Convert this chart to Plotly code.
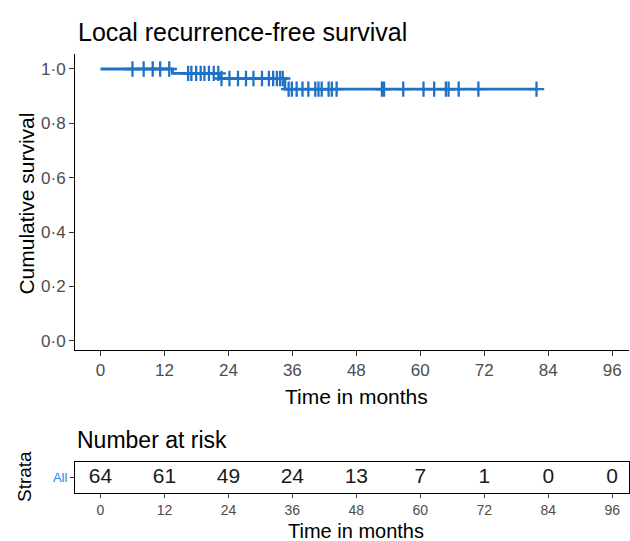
import plotly.graph_objects as go

W, H = 630, 541
OFF = 0  # body margin removed via post_script

# ---- data ----
step_times = [0, 13.5, 22.3, 34.6]
surv_levels = [1.0, 0.984, 0.965, 0.926]
end_time = 81.8
censor_times = [6.0, 8.1, 9.8, 11.2, 12.9,
                16.45, 17.05, 17.95, 18.8, 19.5, 20.35, 21.25, 22.1,
                22.7, 24.2, 25.8, 27.3, 28.7, 30.3, 31.6, 32.4, 33.1, 33.7, 34.2,
                35.3, 35.9, 36.8, 37.9, 39.0, 40.3, 40.9, 41.5, 42.8, 43.4, 44.3,
                52.8, 53.2, 56.8, 60.6, 62.6, 64.8, 65.3, 67.2, 70.9, 81.8]
risk_times = [0, 12, 24, 36, 48, 60, 72, 84, 96]
n_at_risk = [64, 61, 49, 24, 13, 7, 1, 0, 0]
y_tick_vals = [0, 0.2, 0.4, 0.6, 0.8, 1.0]
y_tick_text = ["0·0", "0·2", "0·4", "0·6", "0·8", "1·0"]
x_tick_vals = [0, 12, 24, 36, 48, 60, 72, 84, 96]

BLUE = "#1F72C6"
FONT = "Liberation Sans, Arial, sans-serif"
NARROW = "Liberation Sans Narrow, Arial Narrow, Liberation Sans, Arial, sans-serif"


def level_at(t):
    lvl = surv_levels[0]
    for st, sv in zip(step_times, surv_levels):
        if t >= st:
            lvl = sv
    return lvl


line_x = list(step_times) + [end_time]
line_y = list(surv_levels) + [surv_levels[-1]]
cens_y = [level_at(t) for t in censor_times]


def py(p):
    return 1 - (p - OFF) / H


def px(p):
    return (p - OFF) / W


x_range = [-4.78, 99.06]
x_dom = [px(75), px(628.5)]

fig = go.Figure()
fig.add_trace(go.Scatter(x=line_x, y=line_y, mode="lines", line=dict(color=BLUE, width=2.8, shape="hv"),
                         xaxis="x", yaxis="y", showlegend=False, hoverinfo="skip"))
fig.add_trace(go.Scatter(x=censor_times, y=cens_y, mode="markers",
                         marker=dict(symbol="cross-thin", size=11, line=dict(color=BLUE, width=2.3)),
                         xaxis="x", yaxis="y", showlegend=False, hoverinfo="skip"))
fig.add_trace(go.Scatter(x=risk_times, y=[0] * len(risk_times), mode="text",
                         text=[str(v) for v in n_at_risk],
                         textfont=dict(family=FONT, size=21, color="#1a1a1a"),
                         xaxis="x2", yaxis="y2", showlegend=False, hoverinfo="skip"))

fig.update_layout(
    width=W, height=H,
    margin=dict(l=0, r=0, t=0, b=0),
    paper_bgcolor="white", plot_bgcolor="white",
    xaxis=dict(domain=x_dom, range=x_range, anchor="y", tickvals=x_tick_vals,
               showgrid=False, zeroline=False, showline=True, linecolor="black", linewidth=1,
               ticks="outside", ticklen=5, tickcolor="#333333", tickwidth=1,
               tickfont=dict(family=NARROW, size=17, color="#4d4d4d")),
    yaxis=dict(domain=[py(350), py(53.5)], range=[-0.034, 1.057], anchor="x",
               tickvals=y_tick_vals, ticktext=y_tick_text,
               showgrid=False, zeroline=False, showline=True, linecolor="black", linewidth=1,
               ticks="outside", ticklen=5, tickcolor="#333333", tickwidth=1,
               tickfont=dict(family=NARROW, size=17, color="#4d4d4d")),
    xaxis2=dict(domain=x_dom, range=x_range, anchor="y2", tickvals=x_tick_vals,
                showgrid=False, zeroline=False, showline=True, mirror=True, linecolor="black", linewidth=1,
                ticks="outside", ticklen=4, tickcolor="#333333", tickwidth=1,
                tickfont=dict(family=NARROW, size=14, color="#4d4d4d")),
    yaxis2=dict(domain=[py(493.3), py(461.7)], range=[-0.5, 0.5], anchor="x2",
                tickvals=[0], ticktext=["All"],
                showgrid=False, zeroline=False, showline=True, mirror=True, linecolor="black", linewidth=1,
                ticks="outside", ticklen=4, tickcolor="#333333", tickwidth=1,
                tickfont=dict(family=NARROW, size=13, color="#2E86DE")),
    annotations=[
        dict(text="Local recurrence-free survival", x=px(76), y=py(32.5), xref="paper", yref="paper",
             xanchor="left", yanchor="middle", showarrow=False,
             font=dict(family=FONT, size=25, color="black")),
        dict(text="Cumulative survival", x=px(25.6), y=py(204), xref="paper", yref="paper",
             xanchor="center", yanchor="middle", textangle=-90, showarrow=False,
             font=dict(family=FONT, size=21, color="black")),
        dict(text="Time in months", x=px(356), y=py(396), xref="paper", yref="paper",
             xanchor="center", yanchor="middle", showarrow=False,
             font=dict(family=FONT, size=21, color="black")),
        dict(text="Number at risk", x=px(75), y=py(439.5), xref="paper", yref="paper",
             xanchor="left", yanchor="middle", showarrow=False,
             font=dict(family=FONT, size=23, color="black")),
        dict(text="Strata", x=px(25), y=py(477), xref="paper", yref="paper",
             xanchor="center", yanchor="middle", textangle=-90, showarrow=False,
             font=dict(family=FONT, size=19, color="black")),
        dict(text="Time in months", x=px(356), y=py(530.5), xref="paper", yref="paper",
             xanchor="center", yanchor="middle", showarrow=False,
             font=dict(family=FONT, size=20, color="black")),
    ],
)

fig.write_html("out.html",
               config={"displayModeBar": False},
               post_script="document.body.style.margin='0px';document.body.style.overflow='hidden';")
